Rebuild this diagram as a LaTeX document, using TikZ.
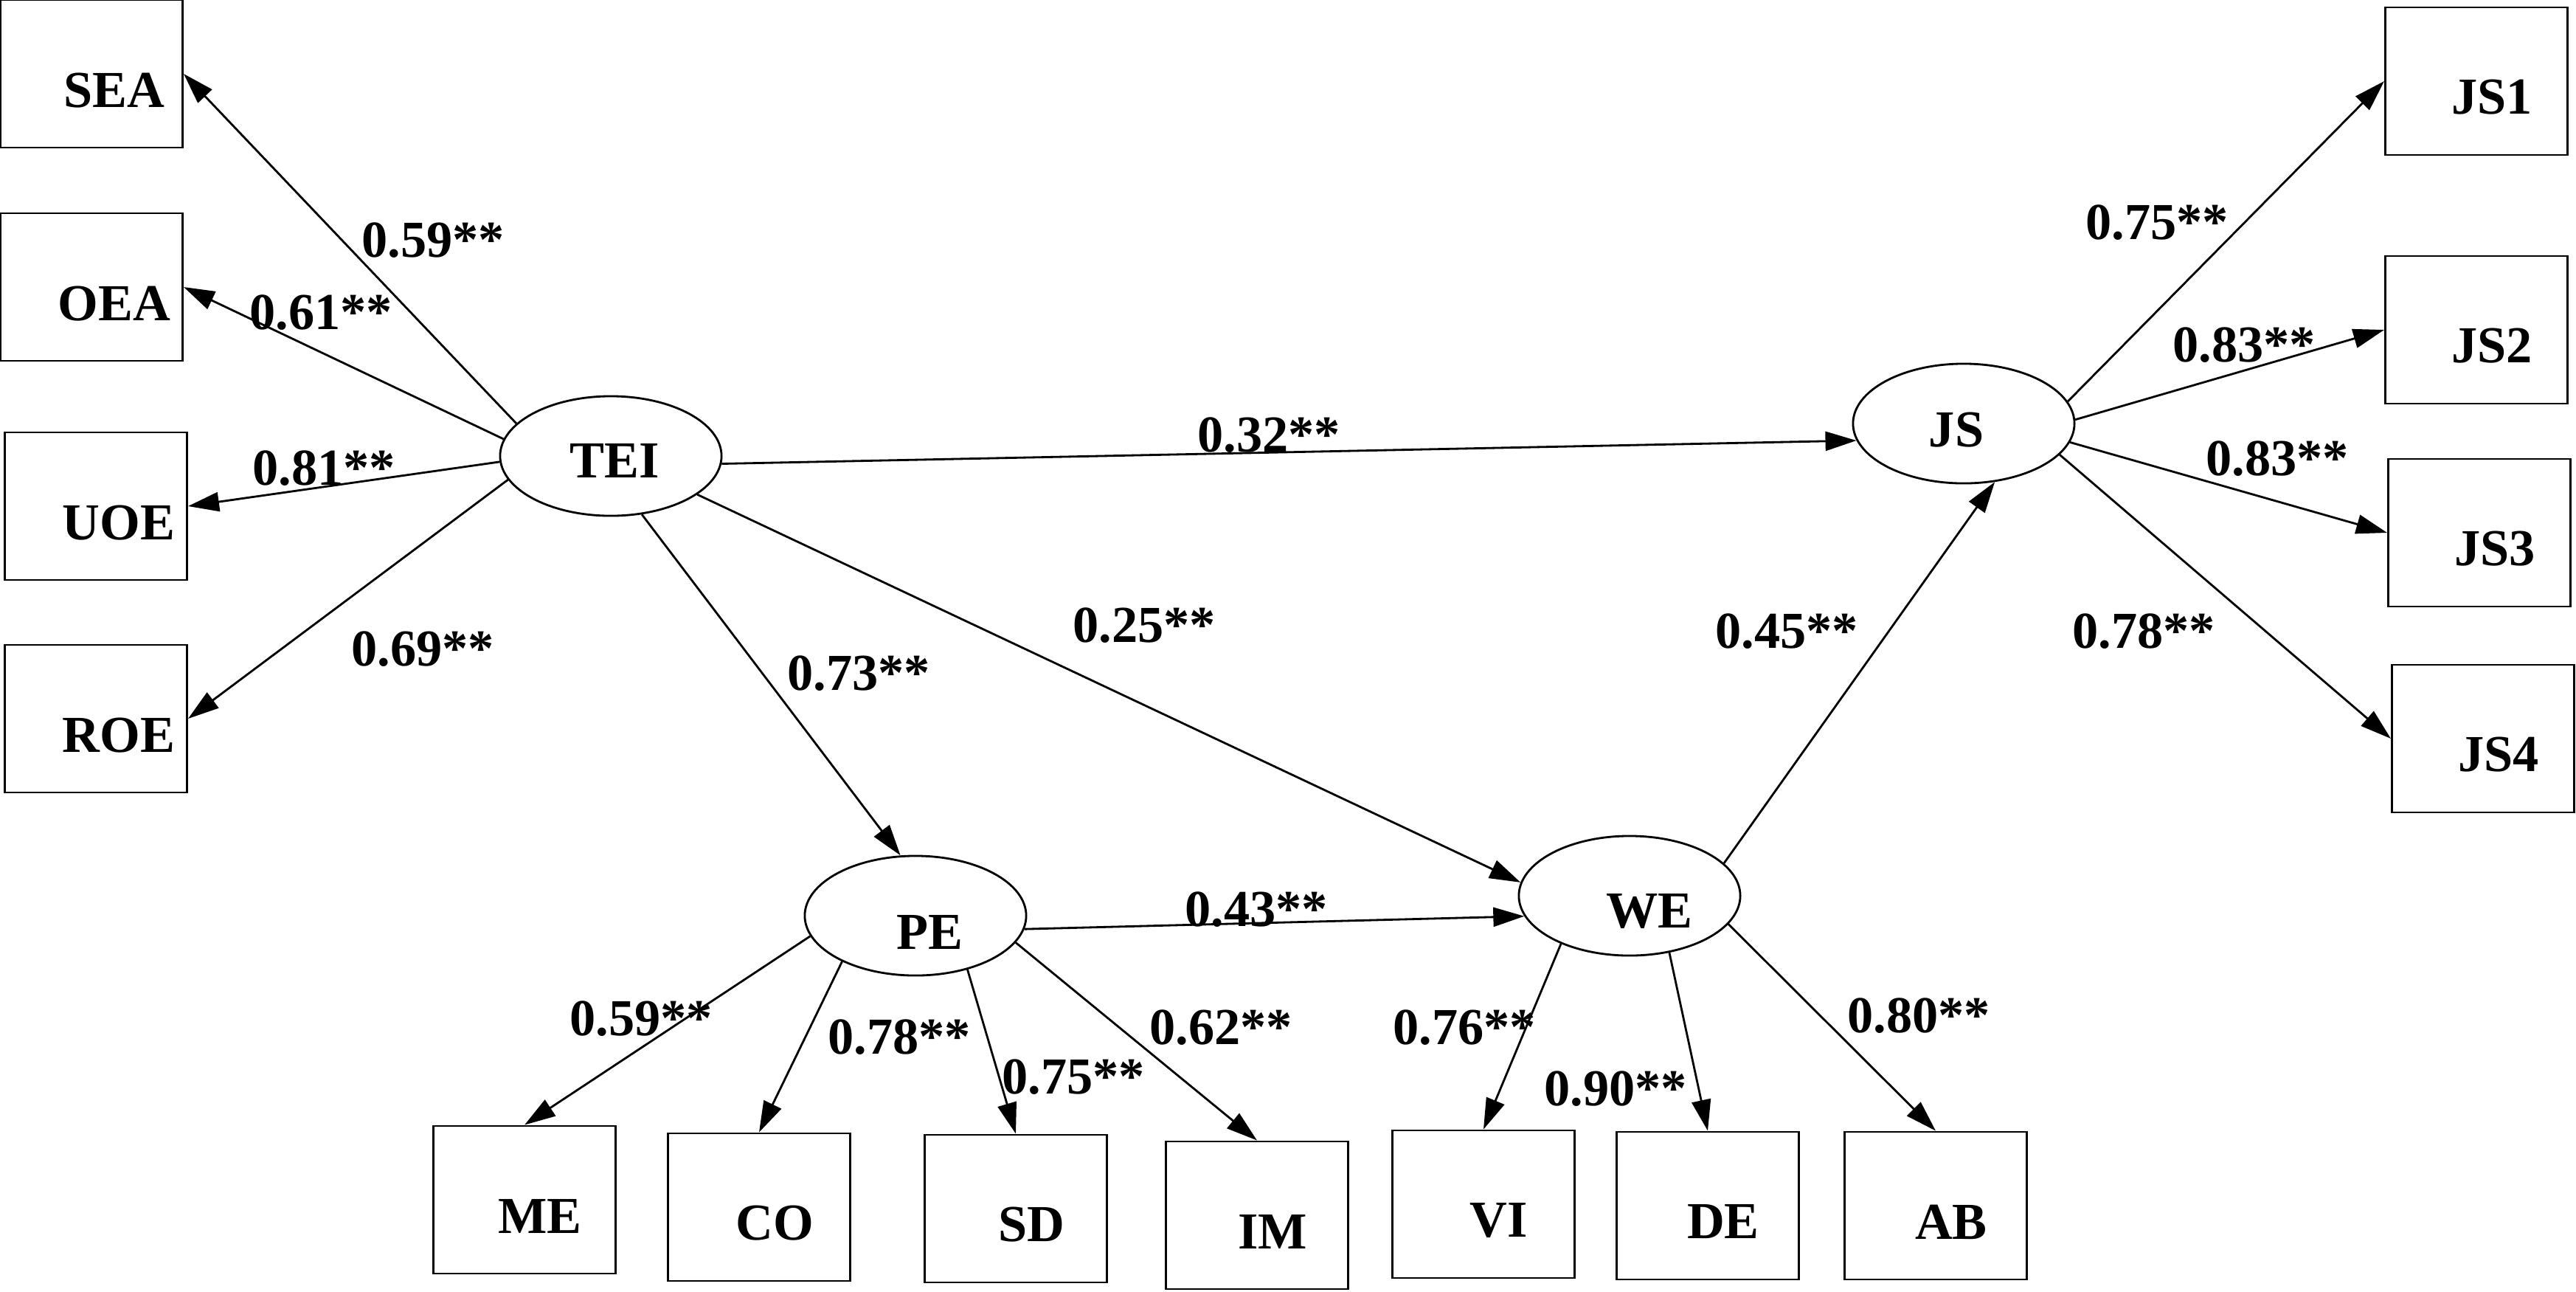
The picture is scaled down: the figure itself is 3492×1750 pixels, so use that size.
\documentclass[tikz,border=0pt]{standalone}
\usepackage{fontspec}
\setmainfont{Liberation Serif}
\usetikzlibrary{arrows.meta,shapes.geometric}
\tikzset{
  vartext/.style={font=\fontsize{20}{24}\selectfont\bfseries, inner sep=0pt, anchor=center},
  coef/.style={font=\fontsize{20}{24}\selectfont\bfseries, inner sep=0pt},
  obsbox/.style={draw, rectangle, line width=0.8pt, minimum width=2.47cm, minimum height=2cm, inner sep=0pt,
    label={[vartext, xshift=0.21cm, yshift=-0.22cm]center:#1}},
  obsboxl/.style={draw, rectangle, line width=0.8pt, minimum width=2.47cm, minimum height=2cm, inner sep=0pt,
    label={[vartext, xshift=0.31cm, yshift=-0.23cm]center:#1}},
  latent/.style={draw, ellipse, line width=0.8pt, minimum width=3cm, minimum height=1.62cm, inner sep=0pt},
  semarrow/.style={-{Triangle[length=4.2mm, width=2.6mm]}, line width=0.8pt}
}
\begin{document}
\begin{tikzpicture}[x=0.01cm, y=-0.01cm]
  \useasboundingbox (0,0) rectangle (3492,1750);
  % latent variables
  \node[latent, label={[vartext, xshift=0.05cm, yshift=-0.06cm]center:TEI}] (tei) at (828,618) {};
  \node[latent, label={[vartext, xshift=-0.1cm, yshift=-0.09cm]center:JS}] (js) at (2662,574) {};
  \node[latent, label={[vartext, xshift=0.19cm, yshift=-0.22cm]center:PE}] (pe) at (1241,1241) {};
  \node[latent, label={[vartext, xshift=0.27cm, yshift=-0.21cm]center:WE}] (we) at (2209,1214) {};
  % indicators
  \node[obsboxl=SEA] (sea) at (124,100) {};
  \node[obsboxl=OEA] (oea) at (124,389) {};
  \node[obsboxl=UOE] (uoe) at (130,686) {};
  \node[obsboxl=ROE] (roe) at (130,974) {};
  \node[obsbox=JS1] (js1) at (3357,110) {};
  \node[obsbox=JS2] (js2) at (3357,447) {};
  \node[obsbox=JS3] (js3) at (3361,722) {};
  \node[obsbox=JS4] (js4) at (3366,1001) {};
  \node[obsbox=ME] (me) at (711,1626) {};
  \node[obsbox=CO] (co) at (1029,1636) {};
  \node[obsbox=SD] (sd) at (1377,1638) {};
  \node[obsbox=IM] (im) at (1704,1647) {};
  \node[obsbox=VI] (vi) at (2011,1632) {};
  \node[obsbox=DE] (de) at (2315,1634) {};
  \node[obsbox=AB] (ab) at (2624,1634) {};
  % loadings
  \foreach \v/\a in {sea/161.8, oea/171.3, uoe/183, roe/193.4}
    \draw[semarrow] (tei.\a) -- (\v.east);
  \foreach \v/\a in {js1/12.5, js2/2.7, js3/350.7, js4/342.4}
    \draw[semarrow] (js.\a) -- (\v.west);
  \foreach \v/\a in {me/191, co/212.2, sd/314.2, im/345.9}
    \draw[semarrow] (pe.\a) -- (\v.north);
  \foreach \v/\a in {vi/215.7, de/305.2, ab/344.9}
    \draw[semarrow] (we.\a) -- (\v.north);
  % structural paths
  \draw[semarrow] (tei.298.8) -- (pe.104.4);
  \draw[semarrow] (tei.336.6) -- (we.173);
  \draw[semarrow] (tei.356) -- (js.189.3);
  \draw[semarrow] (pe.353.5) -- (we.191.9);
  \draw[semarrow] (we.19) -- (js.298.4);
  % coefficients
  \node[coef] (cSEA) at (587,326) {0.59**};
  \node[coef] (cOEA) at (435,424) {0.61**};
  \node[coef] (cUOE) at (439,635) {0.81**};
  \node[coef] (cROE) at (573,880) {0.69**};
  \node[coef] (cJSa) at (2924,302) {0.75**};
  \node[coef] (cJSb) at (3042,468) {0.83**};
  \node[coef] (cJSc) at (3087,622) {0.83**};
  \node[coef] (cJSd) at (2906,856) {0.78**};
  \node[coef] (cWEJS) at (2422,856) {0.45**};
  \node[coef] (cTEIJS) at (1720,590) {0.32**};
  \node[coef] (cTEIWE) at (1551,848) {0.25**};
  \node[coef] (cTEIPE) at (1164,913) {0.73**};
  \node[coef] (cPEWE) at (1703,1233) {0.43**};
  \node[coef] (cME) at (869,1381) {0.59**};
  \node[coef] (cCO) at (1219,1406) {0.78**};
  \node[coef] (cSD) at (1455,1460) {0.75**};
  \node[coef] (cIM) at (1655,1393) {0.62**};
  \node[coef] (cVI) at (1985,1393) {0.76**};
  \node[coef] (cDE) at (2190,1476) {0.90**};
  \node[coef] (cAB) at (2601,1377) {0.80**};
\end{tikzpicture}
\end{document}
